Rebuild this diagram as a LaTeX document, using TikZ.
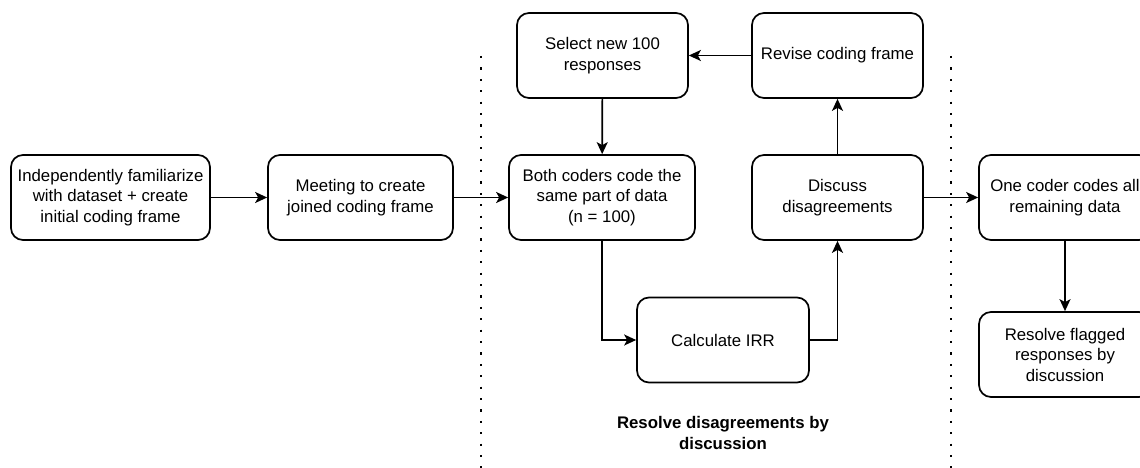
\documentclass[tikz,border=0pt]{standalone}
\usepackage{fontspec}
\setmainfont{Liberation Sans}
\usetikzlibrary{arrows.meta}
\begin{document}
\begin{tikzpicture}[x=1pt,y=-1pt,
  box/.style={draw, rounded corners=12pt, line width=1.7pt, align=center,
    minimum height=85pt, inner sep=2pt, font=\fontsize{16.8}{20.5}\selectfont},
  conn/.style={line width=1.7pt, -{Stealth[length=12pt,width=11pt,inset=3pt]}},
  sep/.style={line width=2.2pt, dash pattern=on 2.2pt off 9.2pt}]
\useasboundingbox (0,0) rectangle (1140,468);
\clip (0,0) rectangle (1140,468);
\fill[white] (0,0) rectangle (1140,468);
% separators
\draw[sep] (481,56) -- (481,470);
\draw[sep] (951,56) -- (951,470);
% nodes
\node[box, minimum width=199pt] (indep) at (110.5,197.5) {Independently familiarize\\with dataset + create\\initial coding frame};
\node[box, minimum width=185pt] (meet) at (360.5,197.5) {Meeting to create\\joined coding frame};
\node[box, minimum width=186pt] (both) at (602,197.5) {Both coders code the\\same part of data\\(n = 100)};
\node[box, minimum width=171pt] (select) at (602.5,55.5) {Select new 100\\responses};
\node[box, minimum width=171pt] (revise) at (837.5,55.5) {Revise coding frame};
\node[box, minimum width=171pt] (discuss) at (837.5,197.5) {Discuss\\disagreements};
\node[box, minimum width=172pt] (irr) at (723,340) {Calculate IRR};
\node[box, minimum width=172pt] (one) at (1065,197.5) {One coder codes all\\remaining data};
\node[box, minimum width=172pt] (flag) at (1065,354.5) {Resolve flagged\\responses by\\discussion};
\node[align=center, font=\fontsize{16.8}{20.5}\selectfont\bfseries] (lbl) at (723,433) {Resolve disagreements by\\discussion};
% connectors
\draw[conn] (indep) -- (meet);
\draw[conn] (meet) -- (both);
\draw[conn] (select) -- (both);
\draw[conn] (both.south) |- (irr.west);
\draw[conn] (irr.east) -| (discuss.south);
\draw[conn] (discuss) -- (revise);
\draw[conn] (revise) -- (select);
\draw[conn] (discuss) -- (one);
\draw[conn] (one) -- (flag);
\end{tikzpicture}
\end{document}
